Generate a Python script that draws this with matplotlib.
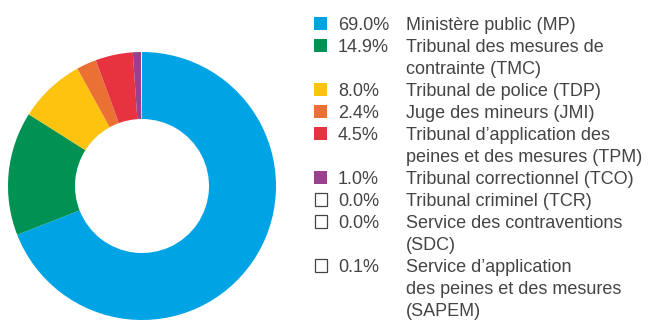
import matplotlib.pyplot as plt
from matplotlib.patches import Rectangle

# share of cases by authority, in percent
labels = [
    "Ministère public (MP)",
    "Tribunal des mesures de\ncontrainte (TMC)",
    "Tribunal de police (TDP)",
    "Juge des mineurs (JMI)",
    "Tribunal d\u2019application des\npeines et des mesures (TPM)",
    "Tribunal correctionnel (TCO)",
    "Tribunal criminel (TCR)",
    "Service des contraventions\n(SDC)",
    "Service d\u2019application\ndes peines et des mesures\n(SAPEM)",
]
shares = [69.0, 14.9, 8.0, 2.4, 4.5, 1.0, 0.0, 0.0, 0.1]
colors = ["#00a4e4", "#009252", "#fdc30f", "#eb7033", "#e6333f", "#9b3f8f",
          "white", "white", "white"]

W, H = 648, 322
fig = plt.figure(figsize=(W / 100, H / 100), dpi=100)

# donut
ax = fig.add_axes([8 / W, 2 / H, 268 / W, 268 / H])
ax.pie(shares, colors=colors, startangle=90, counterclock=False, radius=1,
       wedgeprops=dict(width=0.5, edgecolor="none"))
ax.set_xlim(-1, 1)
ax.set_ylim(-1, 1)
ax.set_aspect("equal")
ax.axis("off")

# legend, laid out in pixels from the top-left corner
txt_color = "#444444"
fs = 13
y0 = 23.5          # centre of first line
line_h = 22.0
cap = 6.6          # half cap height in px, to put the baseline
sq = 13.4


def fy(y):
    return 1 - y / H


row = 0
for lab, val, col in zip(labels, shares, colors):
    yc = y0 + row * line_h
    if col == "white":
        rect = Rectangle((314.5 / W, fy(yc + 6.2)), 12.4 / W, 12.4 / H,
                         transform=fig.transFigure, facecolor="white",
                         edgecolor="#444444", linewidth=0.9)
    else:
        rect = Rectangle((314 / W, fy(yc + sq / 2)), sq / W, sq / H,
                         transform=fig.transFigure, facecolor=col, edgecolor="none")
    fig.patches.append(rect)
    fig.text(338 / W, fy(yc + cap), f"{val:.1f}%", fontsize=fs, color=txt_color,
             family="Liberation Sans", va="baseline", ha="left")
    for part in lab.split("\n"):
        fig.text(406 / W, fy(y0 + row * line_h + cap), part, fontsize=fs,
                 color=txt_color, family="Liberation Sans", va="baseline",
                 ha="left")
        row += 1

fig.savefig("out.png", dpi=100)
